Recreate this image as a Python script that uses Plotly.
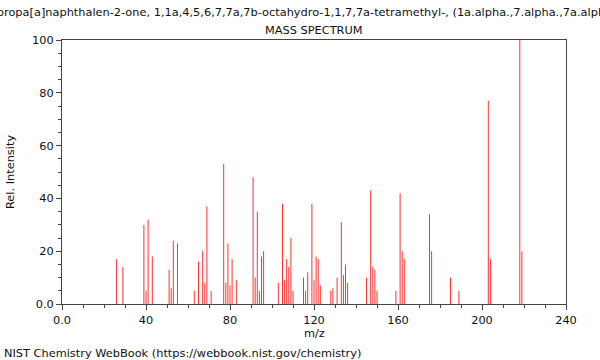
import plotly.graph_objects as go

mz = [26, 29, 39, 40, 41, 43, 51, 52, 53, 55, 63, 65, 67, 68, 69, 71,
      77, 78, 79, 80, 81, 83, 91, 92, 93, 94, 95, 96, 103, 105, 106, 107,
      108, 109, 110, 115, 116, 117, 119, 120, 121, 122, 123, 128, 129, 131,
      133, 134, 135, 136, 145, 147, 148, 149, 150, 159, 161, 162, 163, 175,
      176, 185, 189, 203, 204, 218, 219]
intensity = [17, 14, 30, 5, 32, 18, 13, 6, 24, 23, 5, 16, 20, 8, 37, 5,
             53, 8, 23, 7, 17, 9, 48, 10, 35, 5, 18, 20, 8, 38, 9, 17,
             14, 25, 5, 10, 5, 12, 38, 9, 18, 17, 7, 5, 6, 10,
             31, 11, 15, 8, 10, 43, 14, 13, 5, 5, 42, 20, 17, 34,
             20, 10, 5, 77, 17, 100, 20]

x_ticks = [0, 40, 80, 120, 160, 200, 240]
x_tick_labels = ["0.0", "40", "80", "120", "160", "200", "240"]
y_ticks = [0, 20, 40, 60, 80, 100]
y_tick_labels = ["0.0", "20", "40", "60", "80", "100"]

compound = ("1H-Cyclopropa[a]naphthalen-2-one, 1,1a,4,5,6,7,7a,7b-octahydro-1,1,7,7a-tetramethyl-, "
            "(1a.alpha.,7.alpha.,7a.alpha.,7b.alpha.)-")

xs, ys = [], []
for m, v in zip(mz, intensity):
    xs += [m, m, None]
    ys += [0, v, None]

FONT = "DejaVu Sans"
FS = 11.35
L, R, T, B = 62, 566, 40, 304
W, H = R - L, B - T

def px(x):
    return (x - L) / W

def py(y):
    return (B - y) / H

fig = go.Figure()
fig.add_trace(go.Scatter(x=xs, y=ys, mode="lines",
                         line=dict(color="rgb(255,50,50)", width=1),
                         hoverinfo="skip", showlegend=False))

axis_common = dict(showgrid=False, zeroline=False, showline=True, mirror=True,
                   linecolor="#444", linewidth=1, ticks="outside", ticklen=5,
                   tickcolor="#444", tickfont=dict(family=FONT, size=FS, color="#111"))

fig.update_xaxes(range=[0, 240], tickvals=x_ticks, ticktext=x_tick_labels,
                 minor=dict(dtick=10, ticks="outside", ticklen=3, tickcolor="#444"),
                 **axis_common)
fig.update_yaxes(range=[0, 100], tickvals=y_ticks, ticktext=y_tick_labels,
                 minor=dict(dtick=5, ticks="outside", ticklen=3, tickcolor="#444"),
                 **axis_common)

ann = [
    dict(text=compound, x=px(-56), y=py(12), xanchor="left", yanchor="middle",
         font=dict(family=FONT, size=FS, color="#111")),
    dict(text="MASS SPECTRUM", x=px(314), y=py(30), xanchor="center", yanchor="middle",
         font=dict(family=FONT, size=FS, color="#111")),
    dict(text="Rel. Intensity", x=px(10), y=py(172), xanchor="center", yanchor="middle",
         textangle=-90, font=dict(family=FONT, size=FS, color="#111")),
    dict(text="m/z", x=px(314), y=py(333), xanchor="center", yanchor="middle",
         font=dict(family=FONT, size=FS, color="#111")),
    dict(text="NIST Chemistry WebBook (https://webbook.nist.gov/chemistry)", x=px(2), y=py(353),
         xanchor="left", yanchor="middle", font=dict(family=FONT, size=FS, color="#111")),
]
for a in ann:
    a.update(xref="paper", yref="paper", showarrow=False)

fig.update_layout(width=600, height=360, margin=dict(l=L, r=600 - R, t=T, b=360 - B),
                  paper_bgcolor="white", plot_bgcolor="white", annotations=ann)

fig.write_html("out.html", config={"displayModeBar": False},
               post_script="document.body.style.margin='0';document.body.style.overflow='hidden';")
